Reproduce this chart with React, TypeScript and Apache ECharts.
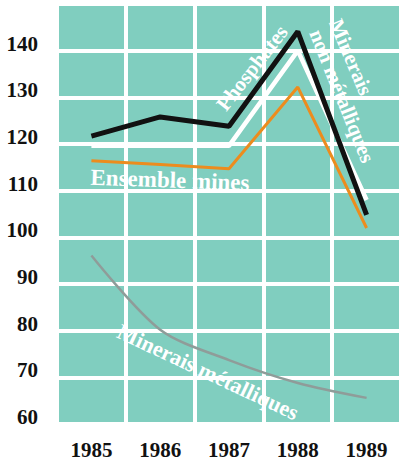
import React, { useEffect, useRef } from "react";
import * as echarts from "echarts";

const years = ["1985", "1986", "1987", "1988", "1989"];
const phosphates = [121.7, 125.8, 123.8, 144.1, 104.8];
const nonMetal = [119.6, 119.6, 119.6, 140, 108];
const ensemble = [116.4, 115.6, 114.7, 132.2, 102];
const metal = [96.1, 80.2, 73.7, 68.8, 65.6];

const serif = "'Liberation Serif', 'DejaVu Serif', serif";
const deg = Math.PI / 180;

export default function App() {
  const ref = useRef<HTMLDivElement>(null);
  useEffect(() => {
    document.body.style.margin = "0";
    const chart = echarts.init(ref.current!, undefined, { renderer: "svg" });
    const txt = (text: string, x: number, y: number, rot: number, size = 21) => ({
      type: "text",
      x,
      y,
      rotation: rot * deg,
      z: 100,
      style: {
        text,
        fill: "#ffffff",
        font: `bold ${size}px ${serif}`,
        align: "center",
        verticalAlign: "middle",
      },
    });
    chart.setOption({
      animation: false,
      backgroundColor: "#ffffff",
      grid: {
        left: 57,
        right: 0,
        top: 4,
        bottom: 40,
        show: true,
        backgroundColor: "#80cebf",
        borderWidth: 0,
      },
      xAxis: {
        type: "category",
        data: years,
        boundaryGap: true,
        axisLine: { show: false },
        axisTick: { show: false },
        axisLabel: {
          margin: 15,
          color: "#111111",
          fontFamily: serif,
          fontWeight: "bold",
          fontSize: 21,
        },
        splitLine: { show: true, lineStyle: { color: "#ffffff", width: 4 } },
      },
      yAxis: {
        type: "value",
        min: 60,
        max: 150,
        interval: 10,
        axisLine: { show: false },
        axisTick: { show: false },
        axisLabel: {
          margin: 19,
          color: "#111111",
          fontFamily: serif,
          fontWeight: "bold",
          fontSize: 21,
          verticalAlign: "bottom",
          lineHeight: 14,
          formatter: (v: number) => (v === 150 ? "" : String(v)),
        },
        splitLine: { show: true, lineStyle: { color: "#ffffff", width: 4 } },
      },
      series: [
        {
          type: "line",
          data: metal,
          smooth: 0.3,
          symbol: "none",
          lineStyle: { color: "#8f9c99", width: 2.5 },
        },
        {
          type: "line",
          data: ensemble,
          symbol: "none",
          lineStyle: { color: "#ec8c1e", width: 3 },
        },
        {
          type: "line",
          data: nonMetal,
          symbol: "none",
          lineStyle: { color: "#ffffff", width: 4.5 },
        },
        {
          type: "line",
          data: phosphates,
          symbol: "none",
          lineStyle: { color: "#111111", width: 5 },
        },
      ],
      graphic: [
        txt("Phosphates", 252, 68, 52),
        txt("Minerais", 351, 57, -67),
        txt("non métalliques", 342, 96, -68),
        txt("Ensemble mines", 170, 180, -2, 23),
        txt("Minerais métalliques", 208, 372, -25, 22),
      ],
    });
    return () => chart.dispose();
  }, []);
  return <div ref={ref} style={{ width: 401, height: 464 }} />;
}
